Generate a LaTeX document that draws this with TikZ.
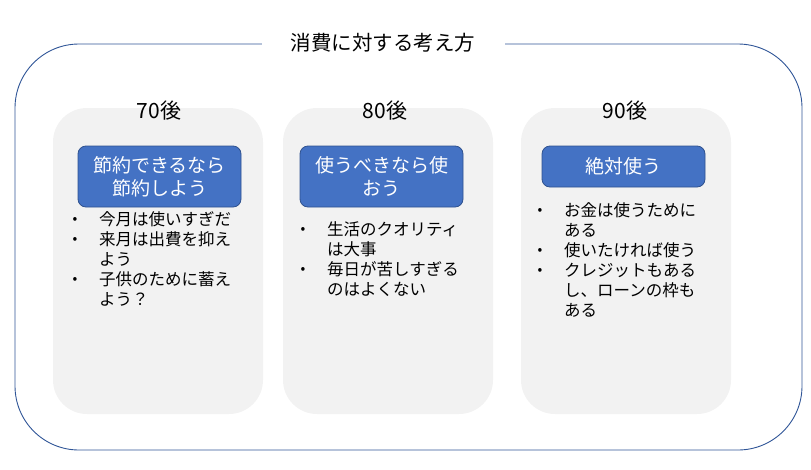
\documentclass[tikz,border=0pt]{standalone}
\usepackage{fontspec}
\setmainfont{Noto Sans CJK JP}
\usetikzlibrary{positioning}
\definecolor{genBlue}{HTML}{4472C4}
\definecolor{genBlueEdge}{HTML}{2F528F}
\definecolor{genFrame}{HTML}{2F5597}
\definecolor{genPanel}{HTML}{F2F2F2}
\newcommand{\itm}{\makebox[26.5pt][l]{\raisebox{1.5pt}{\fontsize{14}{14}\selectfont •}}}
\tikzset{
  gen/frame/.style = {draw=genFrame, line width=0.9pt, rounded corners=64pt},
  gen/panel/.style = {fill=genPanel, rounded corners=34pt, minimum width=210pt,
                      minimum height=306pt, inner sep=0pt},
  gen/title/.style = {fill=white, inner sep=0pt, minimum width=243pt, minimum height=14pt,
                      anchor=base, font=\fontsize{20.5}{24}\selectfont},
  gen/head/.style  = {anchor=base, inner sep=0pt, font=\fontsize{21}{24}\selectfont},
  gen/tag/.style   = {fill=genBlue, draw=genBlueEdge, line width=0.8pt, rounded corners=8pt,
                      text=white, align=center, minimum width=163pt, inner sep=0pt,
                      font=\fontsize{19}{23}\selectfont},
  gen/list/.style  = {anchor=base west, inner sep=0pt, align=left,
                      font=\fontsize{16.5}{20}\selectfont},
}
\begin{document}
\begin{tikzpicture}[x=1pt, y=-1pt]
  \useasboundingbox (0,0) rectangle (811,469);
  % outer frame and title
  \draw[gen/frame] (15,44) rectangle (802,450);
  \node[gen/title] (title) at (383,50) {消費に対する考え方};
  % panels
  \node[gen/panel] (p70) at (158,261) {};
  \node[gen/panel] (p80) at (388,261) {};
  \node[gen/panel] (p90) at (626,261) {};
  % headers
  \node[gen/head] (h70) at (159,118) {70後};
  \node[gen/head] (h80) at (385,118) {80後};
  \node[gen/head] (h90) at (625,118) {90後};
  % blue tags
  \node[gen/tag, minimum height=61pt] (t70) at (159.5,176.5) {節約できるなら\\節約しよう};
  \node[gen/tag, minimum height=61pt] (t80) at (381.5,176.5) {使うべきなら使\\おう};
  \node[gen/tag, minimum height=41pt] (t90) at (623.5,166.5) {絶対使う};
  % bullet lists
  \node[gen/list] (l70) at (72.5,225) {\begin{tabular}[t]{@{}l@{}l@{}}
      \itm & 今月は使いすぎだ\\
      \itm & 来月は出費を抑え\\
           & よう\\
      \itm & 子供のために蓄え\\
           & よう？
    \end{tabular}};
  \node[gen/list] (l80) at (300.5,235) {\begin{tabular}[t]{@{}l@{}l@{}}
      \itm & 生活のクオリティ\\
           & は大事\\
      \itm & 毎日が苦しすぎる\\
           & のはよくない
    \end{tabular}};
  \node[gen/list] (l90) at (537.5,216) {\begin{tabular}[t]{@{}l@{}l@{}}
      \itm & お金は使うために\\
           & ある\\
      \itm & 使いたければ使う\\
      \itm & クレジットもある\\
           & し、ローンの枠も\\
           & ある
    \end{tabular}};
\end{tikzpicture}
\end{document}
